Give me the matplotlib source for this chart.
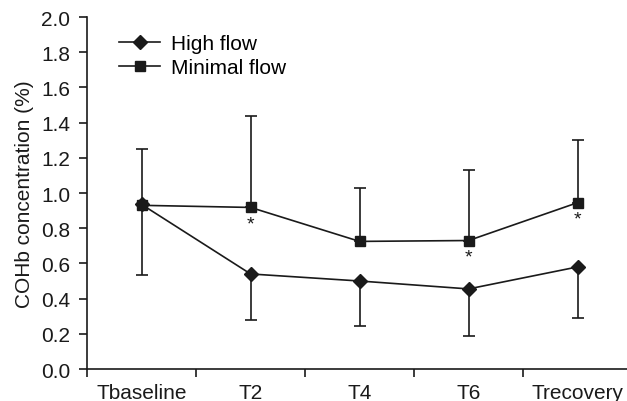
import matplotlib
matplotlib.use("Agg")
import matplotlib.pyplot as plt
import numpy as np

plt.rcParams['font.family'] = ['Liberation Sans', 'DejaVu Sans']

timepoints = ['Tbaseline', 'T2', 'T4', 'T6', 'Trecovery']
high_flow = [0.935, 0.54, 0.50, 0.455, 0.58]
high_flow_lower = [0.535, 0.28, 0.245, 0.19, 0.29]
minimal_flow = [0.93, 0.918, 0.725, 0.73, 0.945]
minimal_flow_upper = [1.25, 1.435, 1.03, 1.13, 1.30]
significant = [False, True, False, True, True]

ink = '#1a1a1a'
fs = 15
x = np.arange(len(timepoints))

fig = plt.figure(figsize=(6.27, 4.02), dpi=100)
ax = fig.add_axes([0.139, 0.0796, 0.861, 0.8756])

hf = np.array(high_flow)
mf = np.array(minimal_flow)
ax.errorbar(x, hf, yerr=[hf - np.array(high_flow_lower), np.zeros_like(hf)],
            fmt='none', ecolor=ink, elinewidth=1.2, capsize=4.5, capthick=1.2)
ax.errorbar(x, mf, yerr=[np.zeros_like(mf), np.array(minimal_flow_upper) - mf],
            fmt='none', ecolor=ink, elinewidth=1.2, capsize=4.5, capthick=1.2)
ax.plot(x, hf, color=ink, lw=1.2, marker='D', markersize=7.5, label='High flow')
ax.plot(x, mf, color=ink, lw=1.2, marker='s', markersize=6.5, label='Minimal flow')

# significance markers under the minimal flow points
for xi, yi, s in zip(x, mf, significant):
    if s:
        ax.text(xi, yi - 0.095, '*', ha='center', va='center', fontsize=14, color=ink)

ax.set_xlim(-0.5, 4.454)
ax.set_ylim(0, 2.0)
ax.set_yticks(np.arange(0, 2.01, 0.2))
ax.set_yticklabels([f'{v:.1f}' for v in np.arange(0, 2.01, 0.2)])
ax.set_xticks(np.arange(-0.5, 4.5, 1.0))
ax.set_xticklabels([])
ax.set_xticks(x, minor=True)
ax.set_xticklabels(timepoints, minor=True)
ax.tick_params(axis='both', which='major', length=6, width=1.2, color=ink,
               labelsize=fs, labelcolor=ink)
ax.tick_params(axis='y', which='major', pad=6)
ax.tick_params(axis='x', which='minor', length=0, pad=10, labelsize=fs, labelcolor=ink)
ax.set_ylabel('COHb concentration (%)', fontsize=fs, color=ink, labelpad=5)

for side in ['top', 'right']:
    ax.spines[side].set_visible(False)
for side in ['left', 'bottom']:
    ax.spines[side].set_linewidth(1.2)
    ax.spines[side].set_color(ink)

ax.legend(loc='upper left', bbox_to_anchor=(0.043, 0.975), frameon=False, fontsize=fs,
          handlelength=2.0, handletextpad=0.5, labelspacing=0.25, borderaxespad=0.0)

fig.savefig('out.png', dpi=100)
